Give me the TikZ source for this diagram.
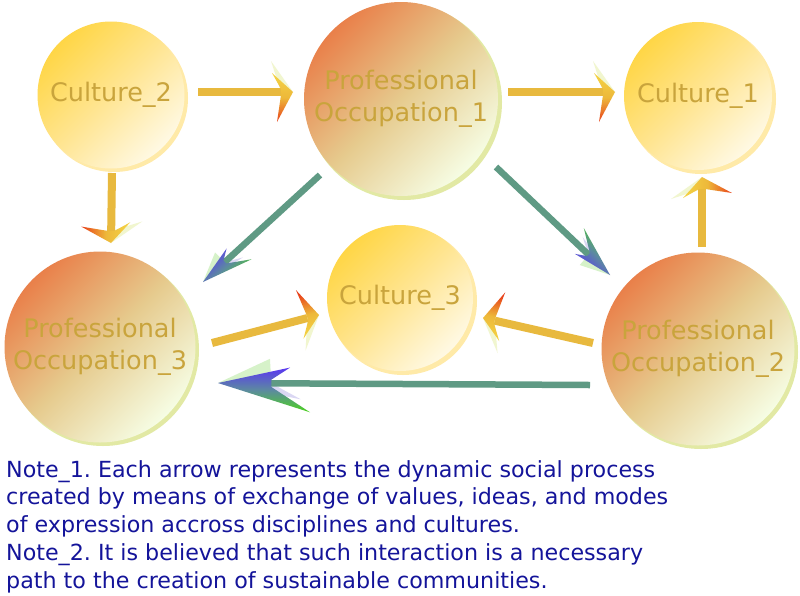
\documentclass[tikz,border=0pt]{standalone}
\usepackage{fontspec}
\setmainfont{DejaVu Sans}
\usetikzlibrary{calc,backgrounds}
\definecolor{cultA}{HTML}{FFD646}
\definecolor{cultM}{HTML}{FFE592}
\definecolor{cultB}{HTML}{FFF9E4}
\definecolor{cultRim}{HTML}{FFEAA8}
\definecolor{profA}{HTML}{E9804A}
\definecolor{profM}{HTML}{E6CB8E}
\definecolor{profB}{HTML}{F6FDE4}
\definecolor{profRim}{HTML}{E2E9A4}
\definecolor{lbl}{HTML}{C9A43C}
\definecolor{noteblue}{HTML}{14149A}
\definecolor{yshaftc}{HTML}{E8B93E}
\definecolor{yred}{HTML}{E8401A}
\definecolor{yyel}{HTML}{F4D444}
\definecolor{ypale}{HTML}{EEF4C4}
\definecolor{ygold}{HTML}{EDB83A}
\definecolor{tshaftc}{HTML}{5F9A84}
\definecolor{tmid}{HTML}{5C8AA0}
\definecolor{tgreen}{HTML}{4CD41C}
\definecolor{tblue}{HTML}{5A36F2}
\definecolor{tpale}{HTML}{CFF0C0}
\definecolor{tlav}{HTML}{D4D0F2}
\tikzset{
  bubble/.style={circle, inner sep=0pt, align=center, text=lbl,
    font=\fontsize{25.5}{32}\selectfont},
  culture/.style={bubble, top color=cultA, bottom color=cultB, middle color=cultM, shading angle=45},
  prof/.style={bubble, top color=profA, bottom color=profB, middle color=profM, shading angle=45},
  yshaft/.style={line width=8pt, draw=yshaftc},
  tshaft/.style={line width=6.5pt, draw=tshaftc},
  notetext/.style={anchor=north west, align=left, inner sep=0pt, text=noteblue,
    font=\fontsize{22.2}{27.8}\selectfont\frenchspacing},
}
% yellow arrow: #1 start, #2 tip, #3 side sign (+1: red on right)
\newcommand\yarrow[3]{%
  \pgfmathanglebetweenpoints{\pgfpointanchor{#1}{center}}{\pgfpointanchor{#2}{center}}%
  \edef\ang{\pgfmathresult}%
  \pgfmathsetmacro\nang{\ang+90*#3}%
  \pgfmathsetmacro\sang{\nang-90}%
  \fill[ypale, opacity=0.8] (#2) -- ($(#2)+(\ang:-22pt)+(\nang:31pt)$) -- ($(#2)+(\ang:-12pt)$) -- cycle;
  \draw[yshaft] (#1) -- ($(#2)!12pt!(#1)$);
  \shade[top color=yyel, bottom color=yred, middle color=ygold, shading angle=\sang]
    (#2) -- ($(#2)+(\ang:-21pt)+(\nang:19pt)$) -- ($(#2)+(\ang:-12pt)+(\nang:3pt)$)
    -- ($(#2)+(\ang:-12pt)+(\nang:-3pt)$) -- ($(#2)+(\ang:-16pt)+(\nang:-30pt)$) -- cycle;
}
% teal arrow: #1 start, #2 tip, #3 head size
\newcommand\tarrow[3]{%
  \pgfmathanglebetweenpoints{\pgfpointanchor{#1}{center}}{\pgfpointanchor{#2}{center}}%
  \edef\ang{\pgfmathresult}%
  \pgfmathsetmacro\nang{\ang+90}%
  \pgfmathsetmacro\ua{-1.0*#3}\pgfmathsetmacro\va{-0.22*#3}%
  \pgfmathsetmacro\ub{-0.74*#3}\pgfmathsetmacro\vb{0.05*#3}%
  \pgfmathsetmacro\uc{-1.28*#3}\pgfmathsetmacro\vc{0.4*#3}%
  \pgfmathsetmacro\ug{-0.72*#3}\pgfmathsetmacro\vg{-0.34*#3}%
  \pgfmathsetmacro\ul{-1.15*#3}\pgfmathsetmacro\vl{0.22*#3}%
  \pgfmathsetmacro\sh{0.7*#3}%
  \fill[tpale, opacity=0.85] (#2) -- ($(#2)+(\ang:\ug pt)+(\nang:\vg pt)$) -- ($(#2)+(\ang:\ub pt)$) -- cycle;
  \fill[tlav, opacity=0.85] (#2) -- ($(#2)+(\ang:\ul pt)+(\nang:\vl pt)$) -- ($(#2)+(\ang:\ub pt)$) -- cycle;
  \draw[tshaft] (#1) -- ($(#2)!\sh pt!(#1)$);
  \shade[top color=tgreen, bottom color=tblue, middle color=tmid, shading angle=\ang]
    (#2) -- ($(#2)+(\ang:\ua pt)+(\nang:\va pt)$) -- ($(#2)+(\ang:\ub pt)+(\nang:-\vb pt)$)
    -- ($(#2)+(\ang:\ub pt)+(\nang:\vb pt)$) -- ($(#2)+(\ang:\uc pt)+(\nang:\vc pt)$) -- cycle;
}
\begin{document}
\begin{tikzpicture}[x=1pt, y=-1pt]
  \useasboundingbox (0,0) rectangle (800,595);

  \node[culture, minimum size=147pt] (c2) at (111,95) {Culture\_2};
  \node[prof, minimum size=194pt] (p1) at (401,99) {Professional\\Occupation\_1};
  \node[culture, minimum size=148pt] (c1) at (698,96) {Culture\_1};
  \node[prof, minimum size=191pt] (p3) at (100,347) {Professional\\Occupation\_3};
  \node[culture, minimum size=146pt] (c3) at (400,298) {Culture\_3};
  \node[prof, minimum size=193pt] (p2) at (698,349) {Professional\\Occupation\_2};

  \begin{scope}[on background layer]
    \fill[white] (0,0) rectangle (800,595);
    \foreach \n/\r in {c2/74, c1/75, c3/74}
      \fill[cultRim] ($(\n.center)+(3pt,-3pt)$) circle (\r pt);
    \foreach \n/\r in {p1/98, p3/96, p2/97}
      \fill[profRim] ($(\n.center)+(3pt,-3pt)$) circle (\r pt);
  \end{scope}

  \coordinate (a1s) at (198,92);  \coordinate (a1t) at (293,92);
  \coordinate (a2s) at (508,92);  \coordinate (a2t) at (615,92);
  \coordinate (a3s) at (112,173); \coordinate (a3t) at (111,243);
  \coordinate (a6s) at (702,247); \coordinate (a6t) at (702,177);
  \coordinate (a7s) at (212,343); \coordinate (a7t) at (319,315);
  \coordinate (a8s) at (593,343); \coordinate (a8t) at (483,318);
  \coordinate (a4s) at (320,175); \coordinate (a4t) at (203,282);
  \coordinate (a5s) at (496,167); \coordinate (a5t) at (610,275);
  \coordinate (a9s) at (590,385); \coordinate (a9t) at (218,383);

  \yarrow{a1s}{a1t}{1}
  \yarrow{a2s}{a2t}{1}
  \yarrow{a3s}{a3t}{1}
  \yarrow{a6s}{a6t}{1}
  \yarrow{a7s}{a7t}{-1}
  \yarrow{a8s}{a8t}{1}
  \tarrow{a4s}{a4t}{40}
  \tarrow{a5s}{a5t}{40}
  \tarrow{a9s}{a9t}{72}

  \node[notetext] (note) at (6,460) {Note\_1. Each arrow represents the dynamic social process\\
    created by means of exchange of values, ideas, and modes\\
    of expression accross disciplines and cultures.\\
    Note\_2. It is believed that such interaction is a necessary\\
    path to the creation of sustainable communities.};
\end{tikzpicture}
\end{document}
